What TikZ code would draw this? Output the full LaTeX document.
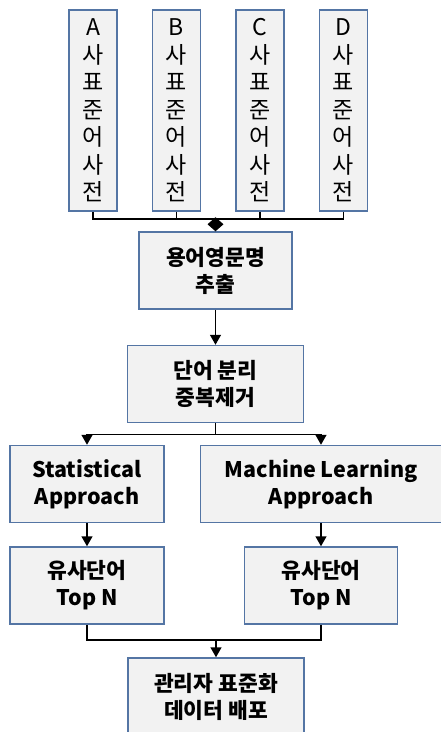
\documentclass[tikz,border=0pt]{standalone}
\usepackage{fontspec}
\setmainfont{Noto Sans CJK KR}
\usepackage{tikz}
\usetikzlibrary{positioning, arrows.meta}
\definecolor{boxline}{RGB}{84,117,164}
\definecolor{boxfill}{RGB}{242,242,242}
\tikzstyle{dict} = [rectangle, minimum width=48pt, minimum height=201pt, inner sep=0pt, align=center, draw=boxline, fill=boxfill, line width=1.5pt, font=\fontsize{23}{27.5}\selectfont]
\tikzstyle{process} = [rectangle, minimum height=77pt, inner sep=0pt, align=center, draw=boxline, fill=boxfill, line width=1.5pt, font=\bfseries\fontsize{21.5}{27}\selectfont]
\tikzstyle{line} = [line width=1.5pt]
\tikzstyle{arrow} = [line width=1.5pt, -{Triangle[length=10pt,width=11pt]}]

\begin{document}
\begin{tikzpicture}[x=1pt, y=-1pt]
        \clip (0,0) rectangle (441,732);
        \node (dicta) [dict] at (93,110.5) {A\\사\\표\\준\\어\\사\\전};
        \node (dictb) [dict, right=34pt of dicta] {B\\사\\표\\준\\어\\사\\전};
        \node (dictc) [dict, right=34pt of dictb] {C\\사\\표\\준\\어\\사\\전};
        \node (dictd) [dict, right=34pt of dictc] {D\\사\\표\\준\\어\\사\\전};
        \node (extract) [process, minimum width=153pt] at (215.5,270.5) {용어영문명\\추출};
        \coordinate (join) at (215.5,219);
        \foreach \d in {dicta,dictb,dictc,dictd}
            \draw [line] (\d.south) |- (join);
        \draw [line, -{Diamond[length=14pt,width=16pt]}] (join) -- (extract.north);
        \node (split) [process, minimum width=176pt, below=35pt of extract] {단어 분리\\중복제거};
        \draw [arrow] (extract) -- (split);
        \node (stat) [process, minimum width=154pt] at (87,484) {Statistical\\Approach};
        \node (ml) [process, minimum width=241pt, right=35pt of stat] {Machine Learning\\Approach};
        \draw [arrow] (split.south) -- ++(0,11) -| (stat.north);
        \draw [arrow] (split.south) -- ++(0,11) -| (ml.north);
        \node (topl) [process, minimum width=154pt, below=23pt of stat] {유사단어\\Top N};
        \node (topr) [process, minimum width=153pt, below=23pt of ml] {유사단어\\Top N};
        \draw [arrow] (stat) -- (topl);
        \draw [arrow] (ml) -- (topr);
        \node (final) [process, minimum width=176pt, minimum height=78pt] at (216,697) {관리자 표준화\\데이터 배포};
        \coordinate (merge) at (216,640);
        \draw [line] (topl.south) |- (merge);
        \draw [line] (topr.south) |- (merge);
        \draw [arrow] (merge) -- (final.north);
\end{tikzpicture}
\end{document}
